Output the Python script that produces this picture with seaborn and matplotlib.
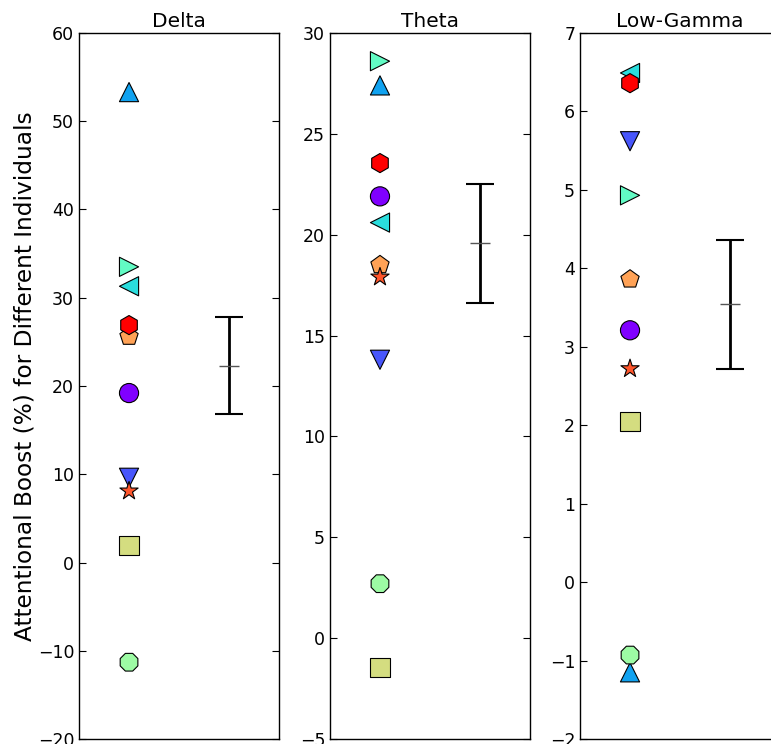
import numpy as np
import pandas as pd
import matplotlib
matplotlib.use('Agg')
import matplotlib.pyplot as plt
import seaborn as sns

# Values, one per individual (same order in every band)
bands = ['Delta', 'Theta', 'Low-Gamma']
delta = [19.2, 9.6, 53.3, 31.3, 33.5, -11.3, 1.9, 25.6, 8.1, 26.9]
theta = [21.9, 13.8, 27.4, 20.6, 28.6, 2.7, -1.45, 18.5, 17.9, 23.55]
low_gamma = [3.21, 5.62, -1.15, 6.49, 4.93, -0.93, 2.05, 3.86, 2.72, 6.36]

# group summary: centre, upper end, lower end of the error bar
summary_mid = [22.3, 19.6, 3.54]
summary_top = [27.8, 22.5, 4.36]
summary_bot = [16.8, 16.6, 2.72]

y_limits = [(-20, 60), (-5, 30), (-2, 7)]

markers = ['o', 'v', '^', '<', '>', '8', 's', 'p', '*', 'h']
n_ind = len(markers)
colors = [plt.cm.rainbow(v) for v in np.linspace(0, 1, n_ind)]

sns.set_style('ticks')
plt.rcParams['font.family'] = ['DejaVu Sans']
plt.rcParams['text.color'] = 'black'
plt.rcParams['axes.labelcolor'] = 'black'
plt.rcParams['xtick.color'] = 'black'
plt.rcParams['ytick.color'] = 'black'

fig = plt.figure(figsize=(7.71, 7.44), dpi=100)
lefts = [0.1025, 0.428, 0.7523]
all_vals = [delta, theta, low_gamma]

for i, band in enumerate(bands):
    ax = fig.add_axes([lefts[i], 0.0067, 0.2594, 0.949])
    df = pd.DataFrame({'x': [0] * n_ind, 'y': all_vals[i],
                       'ind': [str(k) for k in range(n_ind)]})
    sns.scatterplot(data=df, x='x', y='y', hue='ind', style='ind',
                    palette=colors, markers=markers, s=190,
                    edgecolor='black', linewidth=0.8, legend=False,
                    ax=ax, zorder=3)
    err = [[summary_mid[i] - summary_bot[i]], [summary_top[i] - summary_mid[i]]]
    ax.errorbar([1], [summary_mid[i]], yerr=err, fmt='none', ecolor='black',
                elinewidth=2, capsize=10, capthick=1.5)
    ax.plot([1], [summary_mid[i]], marker='_', markersize=14, color='#555555',
            markeredgewidth=1)
    ax.set_xlim(-0.5, 1.5)
    ax.set_ylim(*y_limits[i])
    ax.set_xticks([])
    ax.set_xlabel('')
    ax.set_ylabel('')
    ax.set_title(band, fontsize=14.5, pad=4, color='black')
    ax.tick_params(axis='y', direction='in', right=True, length=5,
                   labelsize=12.5, width=0.8, colors='black')
    for sp in ax.spines.values():
        sp.set_linewidth(1.0)
        sp.set_color('black')
    if i == 0:
        ax.set_ylabel('Attentional Boost (%) for Different Individuals',
                      fontsize=16.75, color='black')
        ax.yaxis.set_label_coords(-0.215, 0.514)

fig.savefig('out.png', dpi=100)
